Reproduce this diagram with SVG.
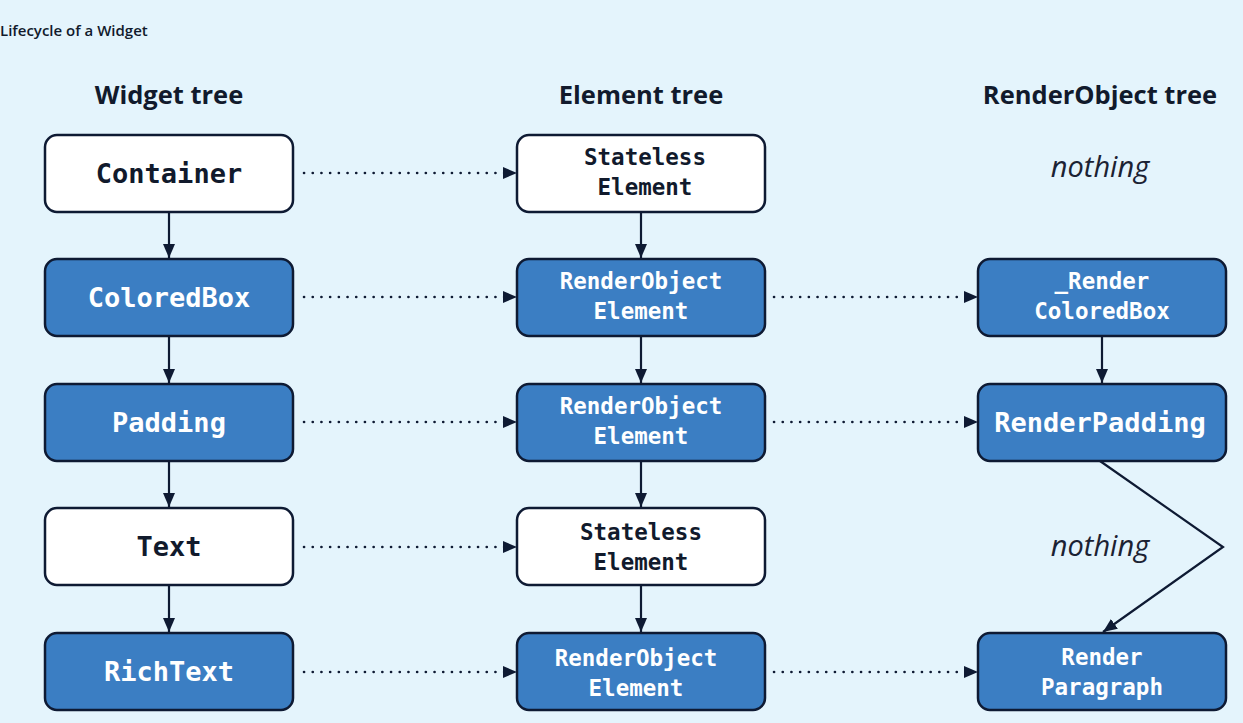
<svg xmlns="http://www.w3.org/2000/svg" width="1243" height="723" viewBox="0 0 1243 723">
<defs>
<style>
.bg{fill:#e4f4fc}
.box{stroke:#0e1a33;stroke-width:2.5}
.w{fill:#ffffff}
.b{fill:#3b7ec3}
.mono{font-family:"DejaVu Sans Mono","Liberation Mono",monospace;font-weight:bold;text-anchor:middle}
.big{font-size:27px}
.sm{font-size:22.5px}
.dk{fill:#111a2c}
.lt{fill:#ffffff}
.head{font-family:"Open Sans","Liberation Sans",sans-serif;font-weight:bold;font-size:25.5px;fill:#111a2c;text-anchor:middle}
.noth{font-family:"Open Sans","Liberation Sans",sans-serif;font-style:italic;font-size:29px;fill:#1b2233;text-anchor:middle}
.solid{stroke:#0e1a33;stroke-width:2.2;fill:none}
.dot{stroke:#0e1a33;stroke-width:2.6;fill:none;stroke-dasharray:0.1 8.6;stroke-linecap:round}
</style>
<marker id="ah" viewBox="0 0 14 12" refX="14" refY="6" markerWidth="14" markerHeight="12" markerUnits="userSpaceOnUse" orient="auto">
<path d="M0,0 L14,6 L0,12 z" fill="#0e1a33"/>
</marker>
</defs>
<rect class="bg" x="0" y="0" width="1243" height="723"/>
<text x="0" y="36" font-family="Open Sans, Liberation Sans, sans-serif" font-size="15" font-weight="600" fill="#111a2c">Lifecycle of a Widget</text>
<g id="headings">
<text class="head" x="169" y="104">Widget tree</text>
<text class="head" x="641" y="104">Element tree</text>
<text class="head" x="1100" y="104">RenderObject tree</text>
</g>
<g id="connectors">
<line class="solid" x1="169" y1="212" x2="169" y2="258" marker-end="url(#ah)"/>
<line class="solid" x1="169" y1="336" x2="169" y2="383" marker-end="url(#ah)"/>
<line class="solid" x1="169" y1="461" x2="169" y2="507" marker-end="url(#ah)"/>
<line class="solid" x1="169" y1="585" x2="169" y2="632" marker-end="url(#ah)"/>
<line class="solid" x1="641" y1="212" x2="641" y2="258" marker-end="url(#ah)"/>
<line class="solid" x1="641" y1="336" x2="641" y2="383" marker-end="url(#ah)"/>
<line class="solid" x1="641" y1="461" x2="641" y2="507" marker-end="url(#ah)"/>
<line class="solid" x1="641" y1="585" x2="641" y2="632" marker-end="url(#ah)"/>
<line class="solid" x1="1102" y1="336" x2="1102" y2="383" marker-end="url(#ah)"/>
<polyline class="solid" points="1100,461 1223,547 1103,632" marker-end="url(#ah)"/>
<line class="dot" x1="304" y1="173" x2="505" y2="173"/>
<line class="dot" x1="304" y1="297" x2="505" y2="297"/>
<line class="dot" x1="304" y1="422" x2="505" y2="422"/>
<line class="dot" x1="304" y1="547" x2="505" y2="547"/>
<line class="dot" x1="304" y1="672" x2="505" y2="672"/>
<line class="dot" x1="774" y1="297" x2="966" y2="297"/>
<line class="dot" x1="774" y1="422" x2="966" y2="422"/>
<line class="dot" x1="774" y1="672" x2="966" y2="672"/>
<g fill="#0e1a33">
<path d="M503,167 L517,173 L503,179 z"/>
<path d="M503,291 L517,297 L503,303 z"/>
<path d="M503,416 L517,422 L503,428 z"/>
<path d="M503,541 L517,547 L503,553 z"/>
<path d="M503,666 L517,672 L503,678 z"/>
<path d="M964,291 L978,297 L964,303 z"/>
<path d="M964,416 L978,422 L964,428 z"/>
<path d="M964,666 L978,672 L964,678 z"/>
</g>
</g>
<g id="w-container"><rect class="box w" x="45" y="135" width="248" height="77" rx="12"/><text class="mono big dk" x="169" y="183">Container</text></g>
<g id="w-coloredbox"><rect class="box b" x="45" y="259" width="248" height="77" rx="12"/><text class="mono big lt" x="169" y="307">ColoredBox</text></g>
<g id="w-padding"><rect class="box b" x="45" y="384" width="248" height="77" rx="12"/><text class="mono big lt" x="169" y="432">Padding</text></g>
<g id="w-text"><rect class="box w" x="45" y="508" width="248" height="77" rx="12"/><text class="mono big dk" x="169" y="556">Text</text></g>
<g id="w-richtext"><rect class="box b" x="45" y="633" width="248" height="77" rx="12"/><text class="mono big lt" x="169" y="681">RichText</text></g>
<g id="e-stateless1"><rect class="box w" x="517" y="135" width="248" height="77" rx="12"/><text class="mono sm dk" x="645" y="165">Stateless</text><text class="mono sm dk" x="645" y="195">Element</text></g>
<g id="e-ro1"><rect class="box b" x="517" y="259" width="248" height="77" rx="12"/><text class="mono sm lt" x="641" y="289">RenderObject</text><text class="mono sm lt" x="641" y="319">Element</text></g>
<g id="e-ro2"><rect class="box b" x="517" y="384" width="248" height="77" rx="12"/><text class="mono sm lt" x="641" y="414">RenderObject</text><text class="mono sm lt" x="641" y="444">Element</text></g>
<g id="e-stateless2"><rect class="box w" x="517" y="508" width="248" height="77" rx="12"/><text class="mono sm dk" x="641" y="540">Stateless</text><text class="mono sm dk" x="641" y="570">Element</text></g>
<g id="e-ro3"><rect class="box b" x="517" y="633" width="248" height="77" rx="12"/><text class="mono sm lt" x="636" y="666">RenderObject</text><text class="mono sm lt" x="636" y="696">Element</text></g>
<g id="r-nothing1"><text class="noth" x="1100" y="177">nothing</text></g>
<g id="r-coloredbox"><rect class="box b" x="978" y="259" width="248" height="77" rx="12"/><text class="mono sm lt" x="1102" y="289">_Render</text><text class="mono sm lt" x="1102" y="319">ColoredBox</text></g>
<g id="r-padding"><rect class="box b" x="978" y="384" width="248" height="77" rx="12"/><text class="mono big lt" x="1100" y="432">RenderPadding</text></g>
<g id="r-nothing2"><text class="noth" x="1100" y="556">nothing</text></g>
<g id="r-paragraph"><rect class="box b" x="978" y="633" width="248" height="77" rx="12"/><text class="mono sm lt" x="1102" y="665">Render</text><text class="mono sm lt" x="1102" y="695">Paragraph</text></g>
</svg>
